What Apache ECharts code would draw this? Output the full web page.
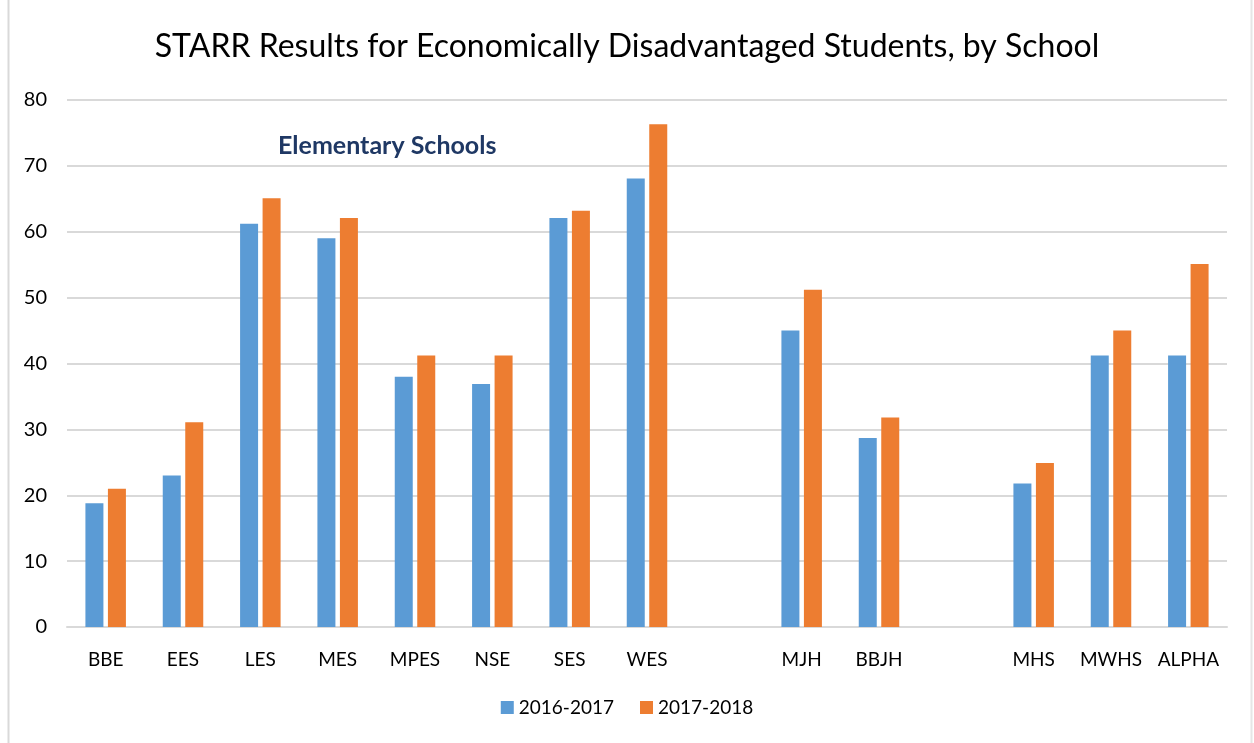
<!DOCTYPE html>
<html><head><meta charset="utf-8">
<script src="https://cdn.jsdelivr.net/npm/echarts@6/dist/echarts.min.js"></script>
<style>html,body{margin:0;padding:0;background:#fff}#c{width:1254px;height:743px}</style>
</head><body><div id="c"></div>
<script>
const categories = ['BBE','EES','LES','MES','MPES','NSE','SES','WES',' ','MJH','BBJH','  ','MHS','MWHS','ALPHA'];
const series2016 = [18.8,23.0,61.2,59.0,38.0,36.9,62.1,68.1,null,45.0,28.7,null,21.8,41.2,41.2];
const series2017 = [21.0,31.1,65.1,62.1,41.2,41.2,63.2,76.3,null,51.2,31.8,null,24.9,45.0,55.1];
const seriesNames = ['2016-2017','2017-2018'];
const yTicks = {min:0, max:80, interval:10};
const FONT = 'Lato, "Open Sans", sans-serif';

const chart = echarts.init(document.getElementById('c'));
chart.setOption({
  backgroundColor:'#fff',
  animation:false,
  title:{text:'STARR Results for Economically Disadvantaged Students, by School', left:'center', top:26,
    textStyle:{fontFamily:FONT, fontSize:32, fontWeight:'normal', color:'#000'}},
  grid:{left:67, right:27, top:100, bottom:116},
  legend:{bottom:21, left:'center', itemWidth:13, itemHeight:13, itemGap:26, icon:'rect',
    textStyle:{fontFamily:FONT, fontSize:19, color:'#000'}, data:seriesNames},
  xAxis:{type:'category', data:categories,
    axisLine:{lineStyle:{color:'#d9d9d9', width:2}}, axisTick:{show:false},
    axisLabel:{fontFamily:FONT, fontSize:19, color:'#000', margin:23, interval:0}},
  yAxis:{type:'value', min:yTicks.min, max:yTicks.max, interval:yTicks.interval,
    axisLine:{show:false}, axisTick:{show:false},
    axisLabel:{fontFamily:FONT, fontSize:20, color:'#000', margin:20},
    splitLine:{lineStyle:{color:'#d9d9d9', width:2}}},
  series:[
    {name:seriesNames[0], type:'bar', data:series2016, barWidth:18, barGap:'25%', itemStyle:{color:'#5B9BD5'}},
    {name:seriesNames[1], type:'bar', data:series2017, barWidth:18, barGap:'25%', itemStyle:{color:'#ED7D31'}}
  ],
  graphic:[
    {type:'text', left:278, top:133, style:{text:'Elementary Schools', fontFamily:FONT, fontSize:25, fontWeight:'bold', fill:'#1F3864'}},
    {type:'line', shape:{x1:8.5,y1:0,x2:8.5,y2:743}, style:{stroke:'#d9d9d9', lineWidth:2}},
    {type:'line', shape:{x1:1251.5,y1:0,x2:1251.5,y2:743}, style:{stroke:'#e6e6e6', lineWidth:2}}
  ]
});
</script></body></html>
